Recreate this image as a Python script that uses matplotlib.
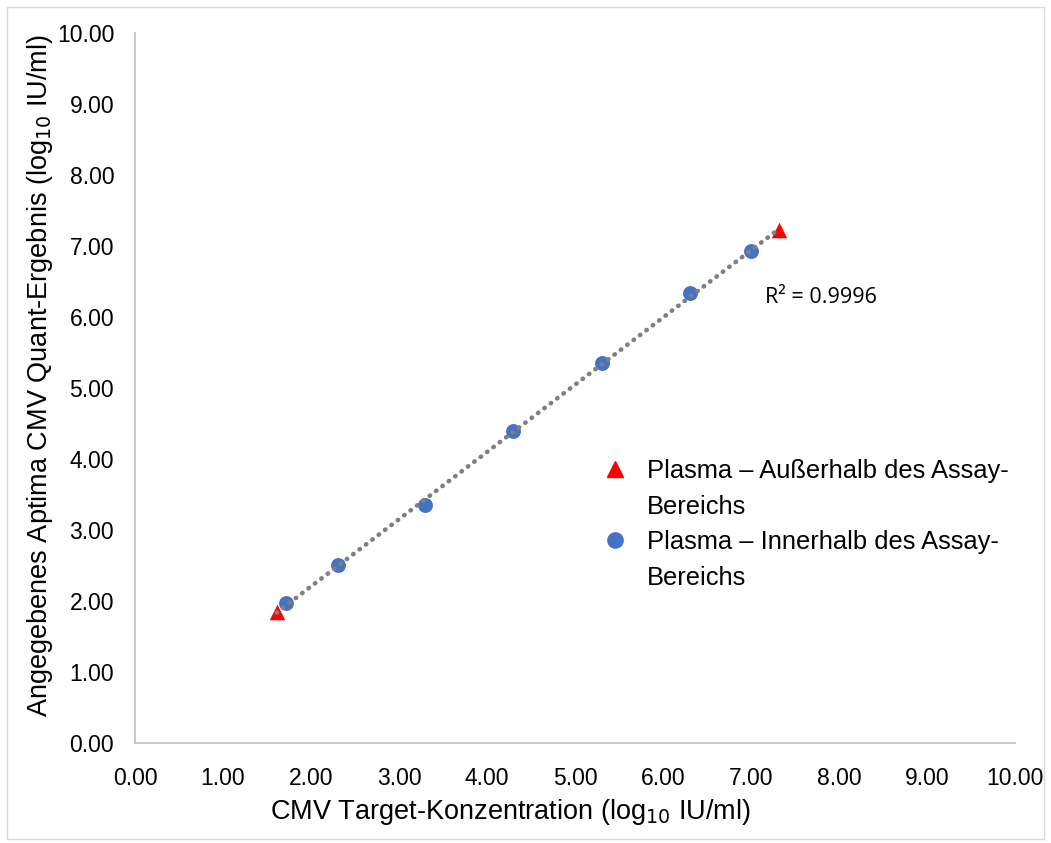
import numpy as np
import matplotlib.pyplot as plt
from matplotlib.lines import Line2D
from matplotlib.patches import Rectangle

plt.rcParams['font.family'] = ['Liberation Sans', 'DejaVu Sans']

# Außerhalb des Assay-Bereichs (red triangles)
out_x = [1.61, 7.32]
out_y = [1.84, 7.22]
# Innerhalb des Assay-Bereichs (blue circles)
in_x = [1.72, 2.31, 3.30, 4.30, 5.31, 6.31, 7.00]
in_y = [1.97, 2.51, 3.35, 4.39, 5.35, 6.34, 6.93]

ticks = np.arange(0, 10.01, 1.0)
tick_labels = [f"{t:.2f}" for t in ticks]

fig = plt.figure(figsize=(10.51, 8.43), dpi=100)
ax = fig.add_axes([135/1051, 1 - 743/843, 880/1051, 710/843])

blue = '#4472C4'
red = '#FF0000'
ax.scatter(in_x, in_y, s=115, color=blue, marker='o', zorder=2, linewidths=0)
ax.scatter(out_x, out_y, s=125, color=red, marker='^', zorder=2, linewidths=0)

# linear trendline over all points
all_x = np.array(out_x + in_x)
all_y = np.array(out_y + in_y)
k, b = np.polyfit(all_x, all_y, 1)
xs = np.array([all_x.min(), all_x.max()])
ax.plot(xs, k * xs + b, color='#7f7f7f', lw=3.3, linestyle=(0, (0.1, 1.65)),
        dash_capstyle='round', zorder=3)

ax.text(7.16, 6.27, "R² = 0.9996", fontsize=15.5, family=['Open Sans', 'DejaVu Sans'],
        ha='left', va='center')

ax.set_xlim(0, 10)
ax.set_ylim(0, 10)
ax.set_xticks(ticks)
ax.set_yticks(ticks)
ax.set_xticklabels(tick_labels, fontsize=16.5)
ax.set_yticklabels(tick_labels, fontsize=16.5)
ax.tick_params(axis='x', length=0, pad=17, colors='#000000')
ax.tick_params(axis='y', length=0, pad=15, colors='#000000')
for s in ['top', 'right']:
    ax.spines[s].set_visible(False)
for s in ['left', 'bottom']:
    ax.spines[s].set_color('#bfbfbf')
    ax.spines[s].set_linewidth(1.2)

ax.set_xlabel("CMV Target-Konzentration (log$_{10}$ IU/ml)", fontsize=19.5)
ax.set_ylabel("Angegebenes Aptima CMV Quant-Ergebnis (log$_{10}$ IU/ml)", fontsize=19.5)
ax.xaxis.set_label_coords(0.426, -0.076)
ax.yaxis.set_label_coords(-0.091, 0.517)

handles = [
    Line2D([], [], marker='^', color=red, linestyle='none', markersize=11),
    Line2D([], [], linestyle='none'),
    Line2D([], [], marker='o', color=blue, linestyle='none', markersize=11),
    Line2D([], [], linestyle='none'),
]
labels = ["Plasma – Außerhalb des Assay-", "Bereichs",
          "Plasma – Innerhalb des Assay-", "Bereichs"]
ax.legend(handles, labels, loc='upper left', bbox_to_anchor=(0.511, 0.425),
          frameon=False, fontsize=18.4, handletextpad=0.75, labelspacing=0.45,
          handlelength=1.0, borderpad=0.2)

fig.patches.append(Rectangle((7/1051, 0.005), 1 - 14/1051, 1 - 7/843 - 0.005,
                             transform=fig.transFigure, fill=False,
                             edgecolor='#d9d9d9', lw=1))

fig.savefig('out.png', dpi=100)
